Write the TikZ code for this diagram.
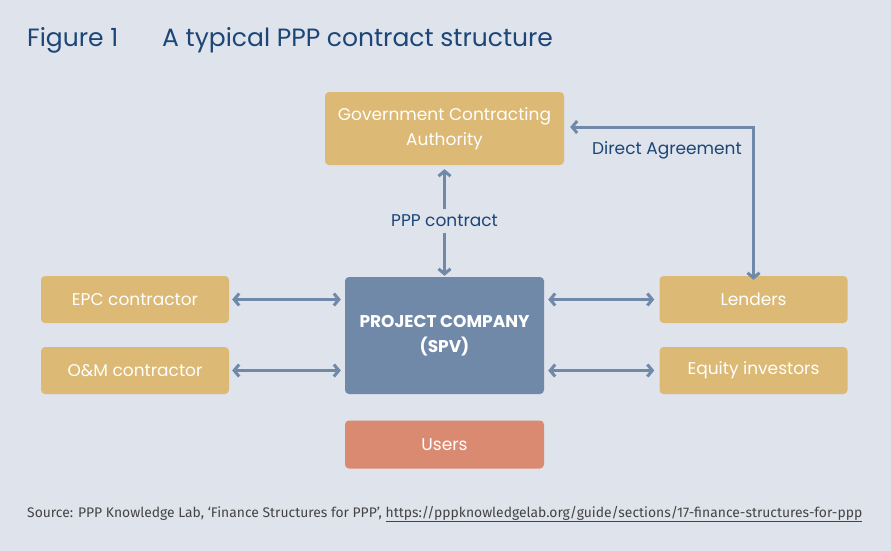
\documentclass[tikz,border=0pt]{standalone}
\usepackage{fontspec}
\setmainfont{Poppins}
\newfontfamily\sourcefont{Fira Sans}
\usepackage{xcolor}
\usetikzlibrary{arrows.meta}

\definecolor{bgGrey}{HTML}{DFE3EC}
\definecolor{boxGold}{HTML}{DCB974}
\definecolor{boxBlue}{HTML}{7089A9}
\definecolor{boxRed}{HTML}{DB8A72}
\definecolor{lineBlue}{HTML}{7089A9}
\definecolor{textBlue}{HTML}{1C4677}
\definecolor{textGrey}{HTML}{444444}

\tikzset{
	party/.style = {fill = boxGold, rounded corners = 4pt, text = white, align = center, font = \fontsize{17}{25}\selectfont, inner sep = 0pt},
	link/.style = {draw = lineBlue, line width = 3pt, {Straight Barb[length=5pt, width=12pt]}-{Straight Barb[length=5pt, width=12pt]}},
	linklabel/.style = {text = textBlue, font = \fontsize{17}{20}\selectfont}
}

\begin{document}
\begin{tikzpicture}[x = 1pt, y = -1pt]
					\def\wSide{188};
					\def\hSide{47};
					\def\xLeft{135};
					\def\xRight{753.5};
					\def\yTop{299.5};
					\def\yBottom{370.5};
					\def\xMid{444.5};

					\fill [bgGrey] (0,0) rectangle (891,551);
					\useasboundingbox (0,0) rectangle (891,551);

					\begin{scope}[every node/.style = {anchor = base west, inner sep = 0pt, text = textBlue, font = \fontsize{25}{28}\selectfont}]
						\node (fig) at (27,47) {Figure 1};
						\node (title) at (162,47) {A typical PPP contract structure};
					\end{scope}

					\begin{scope}
						\node [party, minimum width = 239pt, minimum height = 73pt] (gov) at (\xMid,128.5) {Government Contracting\\Authority};
						\node [party, fill = boxBlue, minimum width = 199pt, minimum height = 117pt, font = \bfseries\fontsize{17}{25}\selectfont] (spv) at (\xMid,335.5) {PROJECT COMPANY\\(SPV)};
						\node [party, fill = boxRed, minimum width = 199pt, minimum height = 48pt] (users) at (\xMid,444.5) {Users};
					\end{scope}

					\begin{scope}
						\node [party, minimum width = \wSide pt, minimum height = \hSide pt] (epc) at (\xLeft,\yTop) {EPC contractor};
						\node [party, minimum width = \wSide pt, minimum height = \hSide pt] (om) at (\xLeft,\yBottom) {O\&M contractor};
						\node [party, minimum width = \wSide pt, minimum height = \hSide pt] (lenders) at (\xRight,\yTop) {Lenders};
						\node [party, minimum width = \wSide pt, minimum height = \hSide pt] (equity) at (\xRight,\yBottom) {Equity investors};
					\end{scope}

					\begin{scope}
						\draw [link, shorten <= 3pt, shorten >= 4pt] (epc.east) -- (epc.east -| spv.west);
						\draw [link, shorten <= 3pt, shorten >= 4pt] (om.east) -- (om.east -| spv.west);
						\draw [link, shorten <= 4pt, shorten >= 5pt] (lenders.west -| spv.east) -- (lenders.west);
						\draw [link, shorten <= 4pt, shorten >= 5pt] (equity.west -| spv.east) -- (equity.west);
					\end{scope}

					\begin{scope}
						\node [linklabel] (ppp) at (\xMid,221) {PPP contract};
						\draw [link, -{Straight Barb[length=5pt, width=12pt]}] (ppp.north) ++(0,-2) coordinate (pppTop) -- ([yshift = -4pt] gov.south);
						\draw [link, -{Straight Barb[length=5pt, width=12pt]}] (ppp.south) ++(0,2) coordinate (pppBottom) -- ([yshift = 1pt] spv.north);
					\end{scope}

					\begin{scope}
						\coordinate (corner) at (\xRight,127);
						\draw [link] ([xshift = 6pt] gov.east |- corner) -- (corner) -- ([yshift = -4pt] lenders.north);
						\node [linklabel] (direct) at (667,150) {Direct Agreement};
					\end{scope}

					\node [anchor = base west, text = textGrey, inner sep = 0pt] (source) at (27,517) {\resizebox{835pt}{!}{\sourcefont\fontsize{12}{14}\selectfont Source: PPP Knowledge Lab, ‘Finance Structures for PPP’, \underline{https://pppknowledgelab.org/guide/sections/17-finance-structures-for-ppp}}};
				\end{tikzpicture}
\end{document}
